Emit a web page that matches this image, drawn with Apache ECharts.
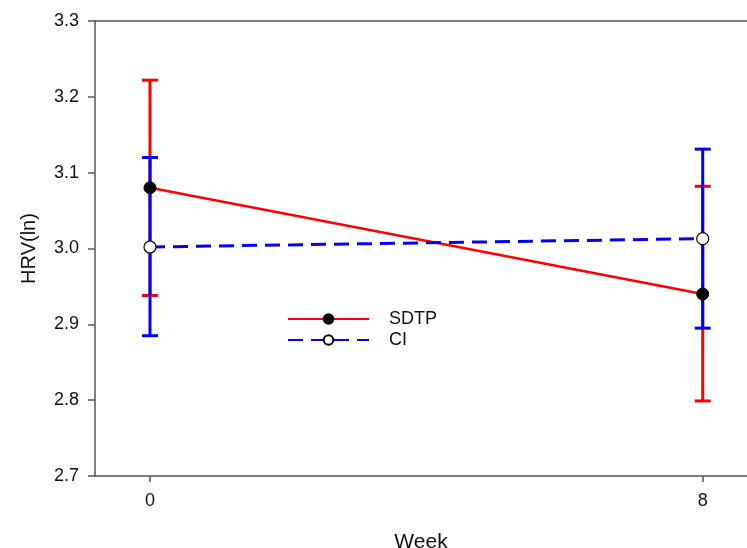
<!DOCTYPE html>
<html>
<head>
<meta charset="utf-8">
<script src="https://cdn.jsdelivr.net/npm/echarts@6/dist/echarts.min.js"></script>
<style>html,body{margin:0;padding:0;background:#fff;}#c{width:747px;height:548px;}</style>
</head>
<body>
<div id="c"></div>
<script>
var weeks = [0, 8];
var sdtpMean = [3.080, 2.940];
var sdtpLow = [2.938, 2.799];
var sdtpHigh = [3.222, 3.082];
var ciMean = [3.002, 3.013];
var ciLow = [2.885, 2.895];
var ciHigh = [3.120, 3.131];
var yTicks = [2.7, 2.8, 2.9, 3.0, 3.1, 3.2, 3.3];
var xTicks = [0, 8];

var FONT = 'Liberation Sans, Arial, sans-serif';
var AXC = '#555';

function errData(low, high) {
  return weeks.map(function (w, i) { return [w, low[i], high[i]]; });
}
function errSeries(name, low, high, color, z) {
  return {
    type: 'custom',
    name: name + '_err',
    z: z,
    silent: true,
    clip: false,
    data: errData(low, high),
    encode: { x: 0, y: [1, 2] },
    renderItem: function (params, api) {
      var x = api.value(0);
      var lo = api.coord([x, api.value(1)]);
      var hi = api.coord([x, api.value(2)]);
      var hw = 8;
      var st = { stroke: color, lineWidth: 3 };
      return {
        type: 'group',
        children: [
          { type: 'line', shape: { x1: lo[0], y1: lo[1], x2: hi[0], y2: hi[1] }, style: st },
          { type: 'line', shape: { x1: lo[0] - hw, y1: lo[1], x2: lo[0] + hw, y2: lo[1] }, style: st },
          { type: 'line', shape: { x1: hi[0] - hw, y1: hi[1], x2: hi[0] + hw, y2: hi[1] }, style: st }
        ]
      };
    }
  };
}

var chart = echarts.init(document.getElementById('c'));
chart.setOption({
  animation: false,
  backgroundColor: '#fff',
  grid: { left: 95, top: 21, right: 0, bottom: 72, show: false, containLabel: false, outerBoundsMode: 'none' },
  legend: {
    left: 287, top: 310, orient: 'vertical', padding: 0,
    itemWidth: 81, itemHeight: 12, itemGap: 3,
    textStyle: { fontFamily: FONT, fontSize: 18, lineHeight: 18, color: '#111', padding: [0, 0, 0, 15] },
    data: ['SDTP', 'CI']
  },
  xAxis: [{
    type: 'value', min: -0.796, max: 8.641,
    name: 'Week', nameLocation: 'middle', nameGap: 56,
    nameTextStyle: { fontFamily: FONT, fontSize: 21, color: '#111' },
    axisLine: { show: true, onZero: false, lineStyle: { color: AXC, width: 1.5 } },
    axisTick: { show: true, length: 6, customValues: xTicks, lineStyle: { color: AXC, width: 1.5 } },
    axisLabel: { customValues: xTicks, margin: 16, fontFamily: FONT, fontSize: 18, color: '#111' },
    splitLine: { show: false }
  }, {
    type: 'value', position: 'top', min: -0.796, max: 8.641,
    axisLine: { show: true, onZero: false, lineStyle: { color: AXC, width: 1.5 } },
    axisTick: { show: false }, axisLabel: { show: false }, splitLine: { show: false }
  }],
  yAxis: {
    type: 'value', min: 2.7, max: 3.3, interval: 0.1,
    name: 'HRV(ln)', nameLocation: 'middle', nameGap: 56, nameRotate: 90,
    nameTextStyle: { fontFamily: FONT, fontSize: 20, color: '#111' },
    axisLine: { show: true, onZero: false, lineStyle: { color: AXC, width: 1.5 } },
    axisTick: { show: true, length: 7, lineStyle: { color: AXC, width: 1.5 } },
    axisLabel: { margin: 16, fontFamily: FONT, fontSize: 18, color: '#111',
      formatter: function (v) { return v.toFixed(1); } },
    splitLine: { show: false }
  },
  series: [
    errSeries('SDTP', sdtpLow, sdtpHigh, '#ff0000', 2),
    errSeries('CI', ciLow, ciHigh, '#0000ff', 3),
    {
      type: 'line', name: 'SDTP', z: 4,
      data: weeks.map(function (w, i) { return [w, sdtpMean[i]]; }),
      symbol: 'circle', symbolSize: 12,
      lineStyle: { color: '#ff0000', width: 2.5 },
      itemStyle: { color: '#000', borderColor: '#000', borderWidth: 1 }
    },
    {
      type: 'line', name: 'CI', z: 5,
      data: weeks.map(function (w, i) { return [w, ciMean[i]]; }),
      symbol: 'circle', symbolSize: 12,
      lineStyle: { color: '#0000ff', width: 3, type: [15, 8] },
      itemStyle: { color: '#fff', borderColor: '#000', borderWidth: 1.2 }
    }
  ]
});
</script>
</body>
</html>
